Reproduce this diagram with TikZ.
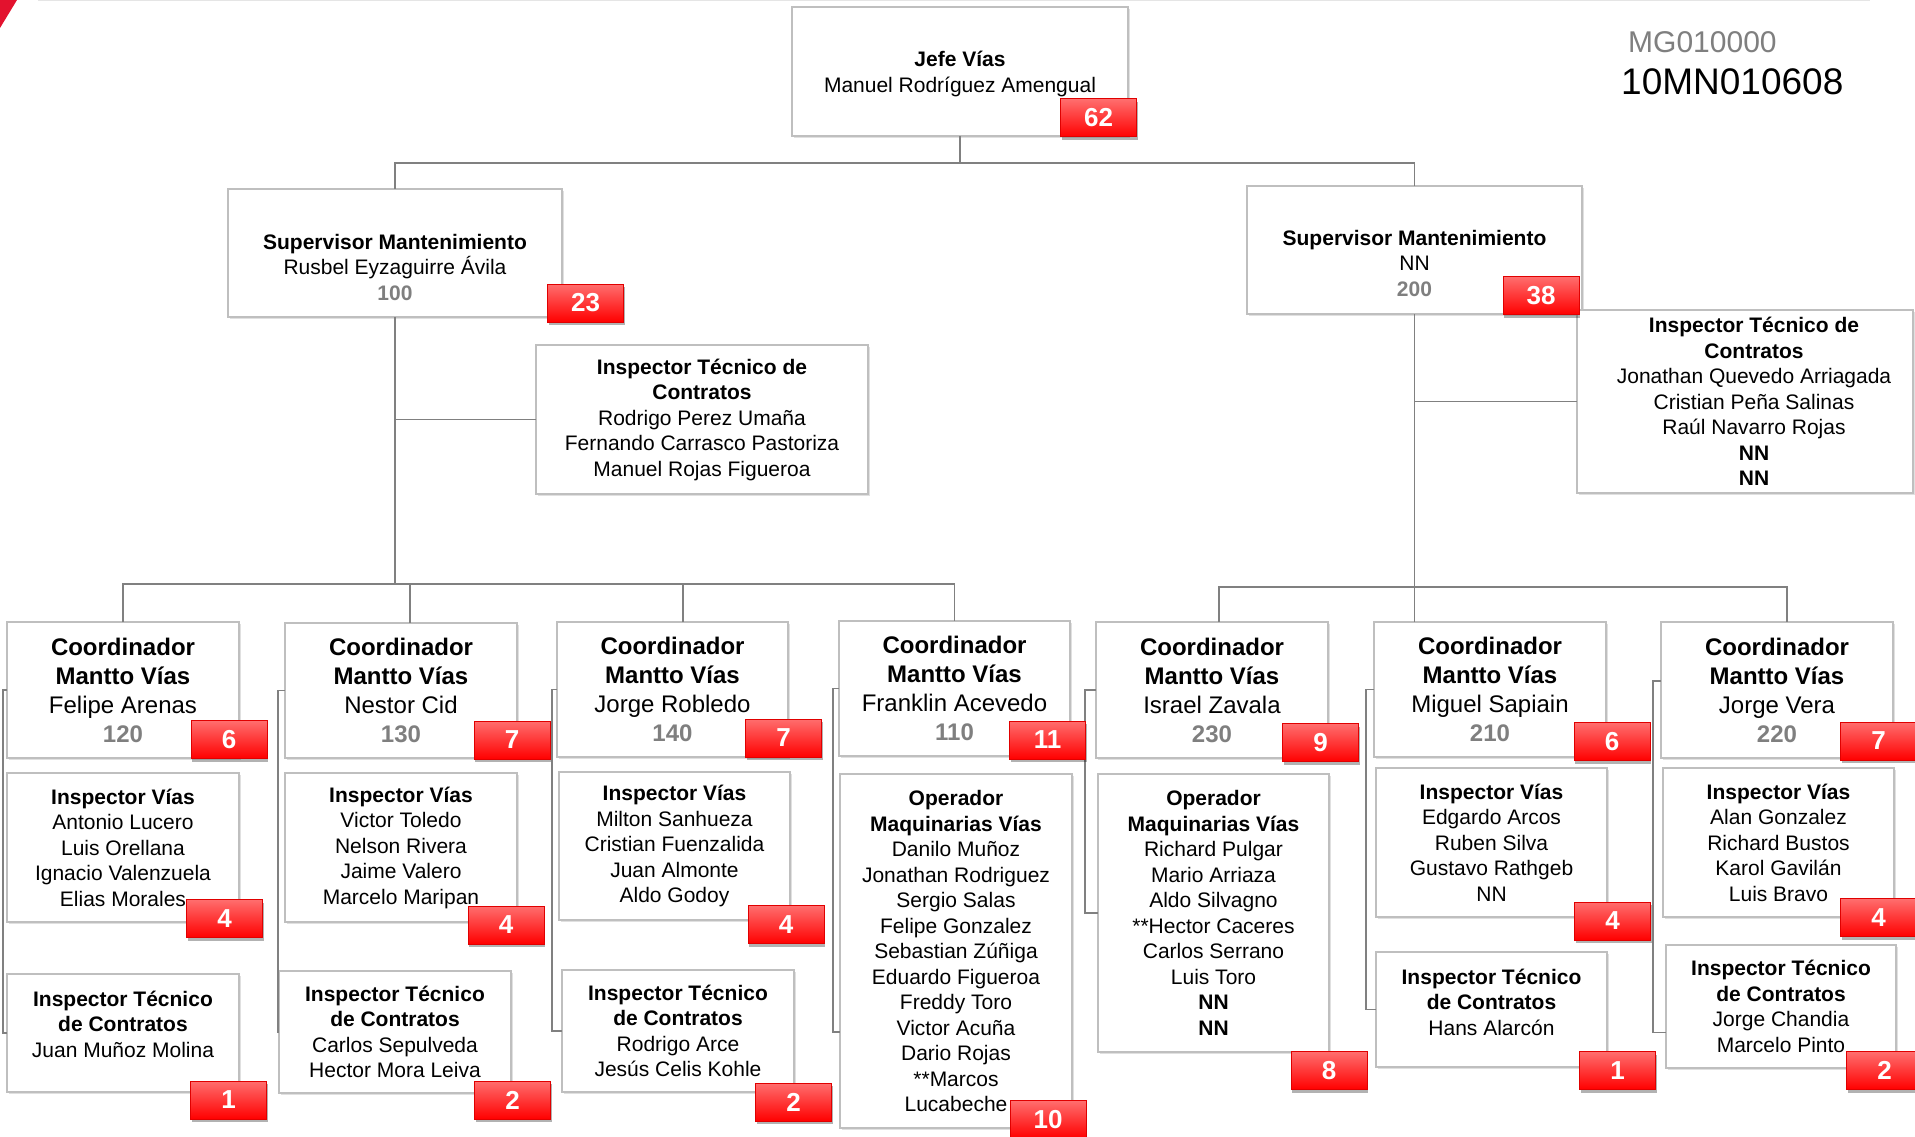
\documentclass[tikz,border=0pt]{standalone}
\usepackage{fontspec}
\setmainfont{Liberation Sans}
\usetikzlibrary{shadows}
\definecolor{conngray}{HTML}{808080}
\definecolor{boxgray}{HTML}{BFBFBF}
\definecolor{numgray}{HTML}{7F7F7F}
\definecolor{badgetop}{HTML}{FF6E6E}
\definecolor{badgebot}{HTML}{FF0000}
\definecolor{badgeline}{HTML}{E00000}
\definecolor{logored}{HTML}{E3122E}
\tikzset{
  conn/.style={draw=conngray, line width=1.8pt},
  box/.style={draw=boxgray, line width=1.3pt, fill=white, inner sep=0pt, outer sep=0pt,
    drop shadow={shadow xshift=2pt, shadow yshift=-2pt, opacity=0.12, fill=black}},
  txt/.style={align=center, inner sep=0pt, font=\fontsize{21}{25.5}\selectfont},
  ctxt/.style={align=center, inner sep=0pt, font=\fontsize{24}{29}\selectfont},
  badge/.style={draw=badgeline, line width=1pt, top color=badgetop, bottom color=badgebot,
    minimum width=76pt, minimum height=38pt, inner sep=0pt, outer sep=0pt, text=white,
    font=\fontsize{26}{26}\bfseries\selectfont,
    drop shadow={shadow xshift=1pt, shadow yshift=-3pt, opacity=0.3, fill=black}}
}
\newcommand\obox[8]{%
  \node[box, minimum width={(#4-#2)*1pt}, minimum height={(#5-#3)*1pt}] (#1) at ({(#2+#4)/2},{(#3+#5)/2}) {};
  \node[#7] (#1t) at ({(#2+#4)/2},{(#3+#5)/2+#6}) {#8};
}
\newcommand\bdg[4]{\node[badge] (#1) at (#2,#3) {#4};}
\newcommand\cnum[1]{\textcolor{numgray}{\textbf{#1}}}
\begin{document}
\begin{tikzpicture}[x=1pt,y=-1pt]
\fill[white] (0,0) rectangle (1915,1137);
\useasboundingbox (0,0) rectangle (1915,1137);
% header decoration
\fill[logored] (0,0) -- (17,0) -- (0,28) -- cycle;
\draw[black!10, line width=1pt] (38,1) -- (1870,1);
\node[anchor=base west, inner sep=0pt, font=\fontsize{30}{30}\selectfont, text=numgray] (mg) at (1628,53) {MG010000};
\node[anchor=base west, inner sep=0pt, font=\fontsize{37}{37}\selectfont] (code) at (1621,95) {10MN010608};

% top level
\obox{jefe}{792}{7}{1128}{136}{2.5}{txt}{\textbf{Jefe Vías}\\Manuel Rodríguez Amengual}
\obox{s1}{228}{189}{562}{317}{14}{txt}{\textbf{Supervisor Mantenimiento}\\Rusbel Eyzaguirre Ávila\\\cnum{100}}
\obox{s2}{1247}{186}{1582}{314}{13}{txt}{\textbf{Supervisor Mantenimiento}\\NN\\\cnum{200}}
\obox{im}{536}{345}{868}{494}{0}{txt}{\textbf{Inspector Técnico de}\\\textbf{Contratos}\\Rodrigo Perez Umaña\\Fernando Carrasco Pastoriza\\Manuel Rojas Figueroa}
\obox{ir}{1577}{310}{1913}{493}{0}{txt,xshift=9pt}{\textbf{Inspector Técnico de}\\\textbf{Contratos}\\Jonathan Quevedo Arriagada\\Cristian Peña Salinas\\Raúl Navarro Rojas\\\textbf{NN}\\\textbf{NN}}

% coordinators
\obox{c1}{7}{622}{239}{758}{0}{ctxt}{\textbf{Coordinador}\\\textbf{Mantto Vías}\\Felipe Arenas\\\cnum{120}}
\obox{c2}{285}{623}{517}{758}{0}{ctxt}{\textbf{Coordinador}\\\textbf{Mantto Vías}\\Nestor Cid\\\cnum{130}}
\obox{c3}{557}{622}{788}{757}{0}{ctxt}{\textbf{Coordinador}\\\textbf{Mantto Vías}\\Jorge Robledo\\\cnum{140}}
\obox{c4}{839}{621}{1070}{756}{0}{ctxt}{\textbf{Coordinador}\\\textbf{Mantto Vías}\\Franklin Acevedo\\\cnum{110}}
\obox{c5}{1096}{622}{1328}{758}{0}{ctxt}{\textbf{Coordinador}\\\textbf{Mantto Vías}\\Israel Zavala\\\cnum{230}}
\obox{c6}{1374}{622}{1606}{757}{0}{ctxt}{\textbf{Coordinador}\\\textbf{Mantto Vías}\\Miguel Sapiain\\\cnum{210}}
\obox{c7}{1661}{622}{1893}{758}{0}{ctxt}{\textbf{Coordinador}\\\textbf{Mantto Vías}\\Jorge Vera\\\cnum{220}}

% second row
\obox{i1}{7}{773}{239}{922}{0}{txt}{\textbf{Inspector Vías}\\Antonio Lucero\\Luis Orellana\\Ignacio Valenzuela\\Elias Morales}
\obox{i2}{285}{773}{517}{922}{0}{txt}{\textbf{Inspector Vías}\\Victor Toledo\\Nelson Rivera\\Jaime Valero\\Marcelo Maripan}
\obox{i3}{559}{772}{790}{920}{0}{txt}{\textbf{Inspector Vías}\\Milton Sanhueza\\Cristian Fuenzalida\\Juan Almonte\\Aldo Godoy}
\obox{o4}{840}{774}{1072}{1128}{0}{txt}{\textbf{Operador}\\\textbf{Maquinarias Vías}\\Danilo Muñoz\\Jonathan Rodriguez\\Sergio Salas\\Felipe Gonzalez\\Sebastian Zúñiga\\Eduardo Figueroa\\Freddy Toro\\Victor Acuña\\Dario Rojas\\**Marcos\\Lucabeche}
\obox{o5}{1098}{774}{1329}{1052}{0}{txt}{\textbf{Operador}\\\textbf{Maquinarias Vías}\\Richard Pulgar\\Mario Arriaza\\Aldo Silvagno\\**Hector Caceres\\Carlos Serrano\\Luis Toro\\\textbf{NN}\\\textbf{NN}}
\obox{i6}{1376}{768}{1607}{917}{0}{txt}{\textbf{Inspector Vías}\\Edgardo Arcos\\Ruben Silva\\Gustavo Rathgeb\\NN}
\obox{i7}{1663}{768}{1894}{917}{0}{txt}{\textbf{Inspector Vías}\\Alan Gonzalez\\Richard Bustos\\Karol Gavilán\\Luis Bravo}

% third row
\obox{t1}{7}{974}{239}{1092}{-9}{txt}{\textbf{Inspector Técnico}\\\textbf{de Contratos}\\Juan Muñoz Molina}
\obox{t2}{279}{971}{511}{1093}{0}{txt}{\textbf{Inspector Técnico}\\\textbf{de Contratos}\\Carlos Sepulveda\\Hector Mora Leiva}
\obox{t3}{562}{970}{794}{1092}{0}{txt}{\textbf{Inspector Técnico}\\\textbf{de Contratos}\\Rodrigo Arce\\Jesús Celis Kohle}
\obox{t6}{1376}{952}{1607}{1067}{-7.5}{txt}{\textbf{Inspector Técnico}\\\textbf{de Contratos}\\Hans Alarcón}
\obox{t7}{1666}{945}{1896}{1068}{0}{txt}{\textbf{Inspector Técnico}\\\textbf{de Contratos}\\Jorge Chandia\\Marcelo Pinto}

% connectors: top
\coordinate (jbus) at (960,163);
\draw[conn] (jefe.south) -- (jbus);
\draw[conn] (s1.north) -- (s1.north |- jbus) -- (s2.north |- jbus) -- (s2.north);
% left supervisor
\coordinate (lbus) at (395,584);
\draw[conn] (s1.south) -- (lbus);
\draw[conn] (s1.south |- im.west) -- (im.west);
\draw[conn] (c1.north) -- (c1.north |- lbus) -- (c4.north |- lbus) -- (c4.north);
\draw[conn] ([xshift=9pt]c2.north) -- ([xshift=9pt]c2.north |- lbus);
\draw[conn] ([xshift=10.5pt]c3.north) -- ([xshift=10.5pt]c3.north |- lbus);
% right supervisor
\coordinate (rbus) at (1415,587);
\draw[conn] (s2.south) -- (s2.south |- c6.north);
\draw[conn] (s2.south |- ir.west) -- (ir.west);
\draw[conn] ([xshift=7pt]c5.north) -- ([xshift=7pt]c5.north |- rbus) -- ([xshift=10pt]c7.north |- rbus) -- ([xshift=10pt]c7.north);
% brackets
\draw[conn] (c1.west) -- ++(-4,0) |- (t1.west);
\draw[conn] (c2.west) -- ++(-7,0) |- (t2.west);
\draw[conn] (c3.west) -- ++(-5,0) |- (t3.west);
\draw[conn] (c4.west) -- ++(-6,0) |- ([yshift=-81pt]o4.west);
\draw[conn] (c5.west) -- ++(-11,0) |- (o5.west);
\draw[conn] (c6.west) -- ++(-8,0) |- (t6.west);
\draw[conn] ([yshift=9pt]c7.west) -- ++(-8,0) |- ([yshift=-26pt]t7.west);

% badges
\bdg{bj}{1098.5}{118}{62}
\bdg{bs1}{585.5}{303}{23}
\bdg{bs2}{1541}{295.5}{38}
\bdg{bc1}{229}{739.5}{6}
\bdg{bi1}{224.5}{918.5}{4}
\bdg{bt1}{228.5}{1100}{1}
\bdg{bc2}{512}{740}{7}
\bdg{bi2}{506}{925}{4}
\bdg{bt2}{512.5}{1100}{2}
\bdg{bc3}{783.5}{738}{7}
\bdg{bi3}{786}{924.5}{4}
\bdg{bt3}{793.5}{1102}{2}
\bdg{bc4}{1047.5}{740}{11}
\bdg{bo4}{1048}{1119.5}{10}
\bdg{bc5}{1320.5}{742.5}{9}
\bdg{bo5}{1329}{1070.5}{8}
\bdg{bc6}{1612}{741.5}{6}
\bdg{bi6}{1612.5}{921}{4}
\bdg{bt6}{1617.5}{1070.5}{1}
\bdg{bc7}{1878.5}{741}{7}
\bdg{bi7}{1878.5}{917.5}{4}
\bdg{bt7}{1884.5}{1070.5}{2}
\end{tikzpicture}
\end{document}
